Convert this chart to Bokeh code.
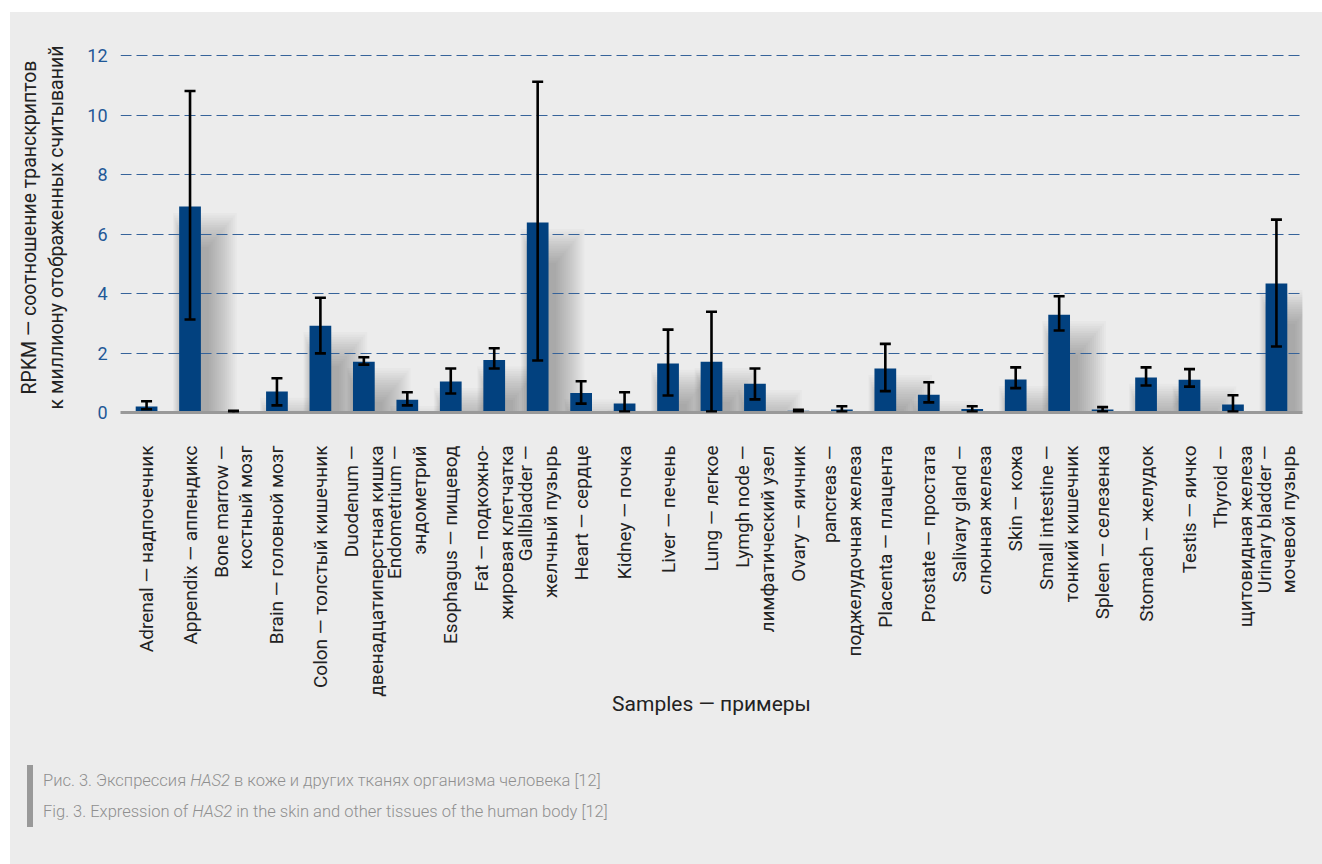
import math
import numpy as np
from bokeh.plotting import figure
from bokeh.models import ColumnDataSource, Whisker, TeeHead, FixedTicker, Range1d, Div
from bokeh.layouts import column
from bokeh.embed import file_html
from bokeh.resources import INLINE

# Tissue samples (English — Russian)
categories = [
    "Adrenal — надпочечник",
    "Appendix — аппендикс",
    "Bone marrow —\nкостный мозг",
    "Brain — головной мозг",
    "Colon — толстый кишечник",
    "Duodenum —\nдвенадцатиперстная кишка",
    "Endometrium —\nэндометрий",
    "Esophagus — пищевод",
    "Fat — подкожно-\nжировая клетчатка",
    "Gallbladder —\nжелчный пузырь",
    "Heart — сердце",
    "Kidney — почка",
    "Liver — печень",
    "Lung — легкое",
    "Lymgh node —\nлимфатический узел",
    "Ovary — яичник",
    "pancreas —\nподжелудочная железа",
    "Placenta — плацента",
    "Prostate — простата",
    "Salivary gland —\nслюнная железа",
    "Skin — кожа",
    "Small intestine —\nтонкий кишечник",
    "Spleen — селезенка",
    "Stomach — желудок",
    "Testis — яичко",
    "Thyroid —\nщитовидная железа",
    "Urinary bladder —\nмочевой пузырь",
]

# Mean RPKM per tissue
rpkm = [0.20, 6.93, 0.03, 0.71, 2.92, 1.71, 0.43, 1.04, 1.77, 6.39,
        0.66, 0.30, 1.65, 1.71, 0.97, 0.06, 0.10, 1.48, 0.60, 0.12,
        1.11, 3.29, 0.10, 1.18, 1.10, 0.27, 4.34]

# Error bar bounds
err_low = [0.11, 3.13, 0.00, 0.24, 1.99, 1.61, 0.24, 0.64, 1.48, 1.75,
           0.30, 0.03, 0.57, 0.03, 0.44, 0.03, 0.03, 0.72, 0.34, 0.03,
           0.82, 2.76, 0.03, 0.91, 0.87, 0.03, 2.22]
err_high = [0.38, 10.82, 0.06, 1.15, 3.86, 1.86, 0.68, 1.48, 2.16, 11.13,
            1.05, 0.68, 2.79, 3.39, 1.48, 0.09, 0.21, 2.31, 1.02, 0.21,
            1.52, 3.91, 0.18, 1.52, 1.46, 0.58, 6.49]

y_ticks = [0, 2, 4, 6, 8, 10, 12]

caption_ru = ("Рис. 3. Экспрессия ", "HAS2", " в коже и других тканях организма человека [12]")
caption_en = ("Fig. 3. Expression of ", "HAS2", " in the skin and other tissues of the human body [12]")

FONT = "Roboto"
BG = "#ececec"
BAR = "#02417f"
TICK_BLUE = "#1f5897"
GRID = "#36639a"

x = np.arange(len(categories))
vals = np.array(rpkm)
src = ColumnDataSource(dict(x=x, v=vals, lo=err_low, hi=err_high))

W, H = 1312, 740
BL, BR, BT, BB = 110, 20, 30, 340
X0, X1 = -0.6, 26.6
Y0, Y1 = 0, 12.45

p = figure(width=W, height=H, x_range=Range1d(X0, X1), y_range=Range1d(Y0, Y1),
           output_backend="svg", toolbar_location=None,
           min_border_left=BL, min_border_right=BR, min_border_top=BT, min_border_bottom=BB,
           background_fill_color=BG, border_fill_color=BG, outline_line_color=None)
p.margin = (0, 0, 0, 0)

ux = (X1 - X0) / (W - BL - BR)   # data units per pixel
uy = (Y1 - Y0) / (H - BT - BB)

# soft drop shadow behind each bar, built from stacked translucent quads
bar_w = 0.5
for e in range(0, 30, 2):
    sh = p.quad(left=x - bar_w / 2 + (5 - 0.4 * e) * ux,
                right=x + bar_w / 2 + (8 + e) * ux,
                top=np.maximum(vals - (40 - 1.2 * e) * uy, 0),
                bottom=np.zeros_like(vals),
                fill_color="black", fill_alpha=0.018, line_color=None)
    sh.level = "image"

p.vbar(x="x", top="v", width=bar_w, source=src, fill_color=BAR, line_color=None)

whisk = Whisker(source=src, base="x", lower="lo", upper="hi",
                line_color="black", line_width=2.6,
                lower_head=TeeHead(size=11, line_color="black", line_width=2.6),
                upper_head=TeeHead(size=11, line_color="black", line_width=2.6))
whisk.level = "overlay"
p.add_layout(whisk)

# y axis
p.yaxis.ticker = FixedTicker(ticks=y_ticks)
p.yaxis.axis_line_color = None
p.yaxis.major_tick_line_color = None
p.yaxis.minor_tick_line_color = None
p.yaxis.major_tick_in = 0
p.yaxis.major_tick_out = 0
p.yaxis.major_label_standoff = 13
p.yaxis.major_label_text_font = FONT
p.yaxis.major_label_text_font_size = "18px"
p.yaxis.major_label_text_color = TICK_BLUE
p.yaxis.axis_label = "RPKM — соотношение транскриптов\nк миллиону отображенных считываний"
p.yaxis.axis_label_text_font = FONT
p.yaxis.axis_label_text_font_size = "19.5px"
p.yaxis.axis_label_text_font_style = "normal"
p.yaxis.axis_label_text_color = "#222222"
p.yaxis.axis_label_standoff = 16

# x axis
p.xaxis.ticker = FixedTicker(ticks=list(range(len(categories))))
p.xaxis.major_label_overrides = {int(i): lab for i, lab in zip(x, categories)}
p.xaxis.major_label_orientation = math.pi / 2
p.xaxis.major_label_text_font = FONT
p.xaxis.major_label_text_font_size = "19px"
p.xaxis.major_label_text_line_height = 1.08
p.xaxis.major_label_text_color = "#222222"
p.xaxis.major_label_standoff = 33
p.xaxis.major_tick_line_color = None
p.xaxis.minor_tick_line_color = None
p.xaxis.major_tick_in = 0
p.xaxis.major_tick_out = 0
p.xaxis.axis_line_color = "#999999"
p.xaxis.axis_line_width = 3
p.xaxis.axis_label = "Samples — примеры"
p.xaxis.axis_label_text_font = FONT
p.xaxis.axis_label_text_font_size = "21px"
p.xaxis.axis_label_text_font_style = "normal"
p.xaxis.axis_label_text_color = "#222222"
p.xaxis.axis_label_standoff = -8

p.xgrid.visible = False
p.ygrid.grid_line_color = GRID
p.ygrid.grid_line_width = 1.2
p.ygrid.grid_line_dash = "11 5"

# figure caption below the chart
def cap_line(parts):
    pre, gene, post = parts
    return f"{pre}<i>{gene}</i>{post}"

caption_html = (
    '<div style="padding:13px 0 0 17px;">'
    '<div style="border-left:6px solid #999999; padding-left:10px; '
    f'font-family:{FONT}; font-weight:300; font-size:16.5px; line-height:31px; '
    'color:#8f8f8f; white-space:nowrap;">'
    f"{cap_line(caption_ru)}<br>{cap_line(caption_en)}"
    "</div></div>"
)
cap = Div(text=caption_html, width=W, height=112, margin=(0, 0, 0, 0),
          styles={"background-color": BG})

layout = column(p, cap, spacing=0, margin=(12, 0, 0, 10),
                styles={"background-color": BG})
open("out.html", "w").write(file_html(layout, INLINE))
